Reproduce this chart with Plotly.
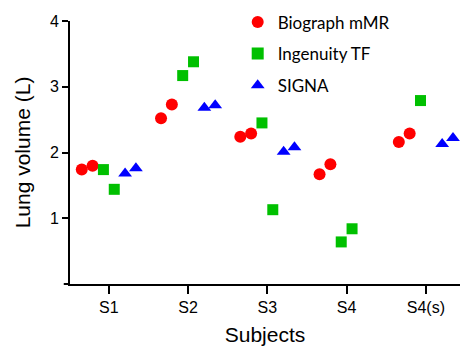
import plotly.graph_objects as go

subjects = ["S1", "S2", "S3", "S4", "S4(s)"]

biograph_a = [1.74, 2.52, 2.24, 1.67, 2.16]
biograph_b = [1.80, 2.73, 2.29, 1.82, 2.29]
ingenuity_a = [1.74, 3.17, 2.45, 0.64, 2.79]
ingenuity_b = [1.44, 3.38, 1.13, 0.84, None]
signa_a = [1.68, 2.68, 2.01, None, 2.13]
signa_b = [1.76, 2.72, 2.08, None, 2.22]

series = [
    ("Biograph mMR", biograph_a, biograph_b, "circle", "#FF0000", 12),
    ("Ingenuity TF", ingenuity_a, ingenuity_b, "square", "#00C000", 11),
    ("SIGNA", signa_a, signa_b, "triangle-up", "#0000FF", 12),
]

fig = go.Figure()
for name, ya, yb, sym, col, sz in series:
    for i, ys in enumerate((ya, yb)):
        fig.add_trace(go.Scatter(
            x=subjects, y=ys, mode="markers", name=name,
            legendgroup=name, showlegend=(i == 0),
            offsetgroup=f"{name}{i}",
            marker=dict(symbol=sym, color=col, size=sz, line=dict(width=0)),
        ))

AX_FONT = "Liberation Sans"
axis_font = dict(family=AX_FONT, size=16, color="black")
title_font = dict(family=AX_FONT, size=21, color="black")

fig.update_layout(
    width=462, height=347,
    margin=dict(l=70, r=2, t=21, b=63),
    paper_bgcolor="white", plot_bgcolor="white",
    font=dict(family=AX_FONT, color="black"),
    scattermode="group", scattergap=0.18,
    showlegend=True,
    legend=dict(
        x=0.43, y=1.063, xanchor="left", yanchor="top",
        font=dict(family="Lato", size=17, color="black"),
        tracegroupgap=6.5, bgcolor="rgba(0,0,0,0)", itemsizing="constant",
    ),
    xaxis=dict(
        type="category", range=[-0.49, 4.43],
        showline=True, linecolor="black", linewidth=2,
        ticks="outside", ticklen=8, tickwidth=2, tickcolor="black",
        showgrid=False, zeroline=False, tickfont=axis_font,
        title=dict(text="Subjects", font=title_font, standoff=12),
    ),
    yaxis=dict(
        range=[0, 4], tickvals=[1, 2, 3, 4],
        showline=True, linecolor="black", linewidth=2,
        ticks="outside", ticklen=6, tickwidth=2, tickcolor="black",
        showgrid=False, zeroline=False, tickfont=axis_font,
        title=dict(text="Lung volume (L)", font=title_font, standoff=14),
    ),
)

fig.add_shape(type="line", xref="paper", yref="paper", x0=-0.016, x1=0, y0=0, y1=0,
              line=dict(color="black", width=2))

fig.write_html("out.html")
